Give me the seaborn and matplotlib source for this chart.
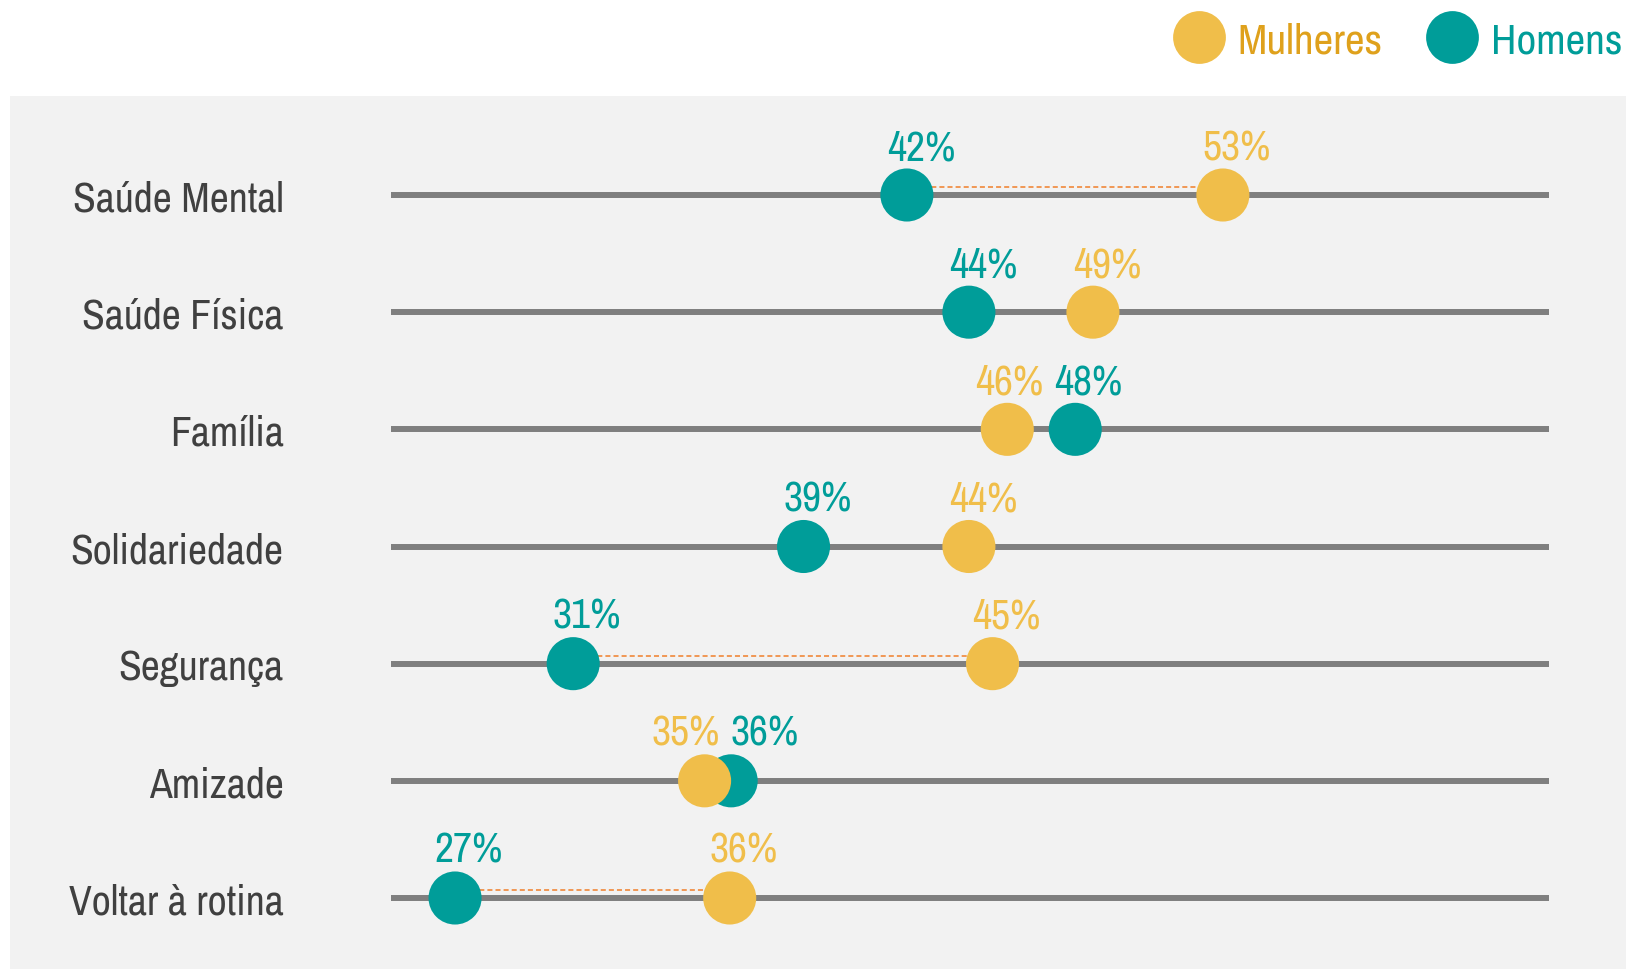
import matplotlib
matplotlib.use('Agg')
from matplotlib import pyplot as plt
from matplotlib.lines import Line2D
import pandas as pd
import seaborn as sns

sns.set_style('white')
plt.rcParams['font.family'] = ['Liberation Sans Narrow', 'Archivo Narrow', 'DejaVu Sans']

# dados
categorias = ['Saúde Mental', 'Saúde Física', 'Família', 'Solidariedade',
              'Segurança', 'Amizade', 'Voltar à rotina']
homens = [42.3, 44.4, 48.0, 38.8, 31.0, 36.35, 27.0]
mulheres = [53.0, 48.6, 45.7, 44.4, 45.2, 35.45, 36.3]
rotulos_homens = ['42%', '44%', '48%', '39%', '31%', '36%', '27%']
rotulos_mulheres = ['53%', '49%', '46%', '44%', '45%', '35%', '36%']
destaque = ['Saúde Mental', 'Segurança', 'Voltar à rotina']  # linha tracejada

cores = {'Homens': '#009D99', 'Mulheres': '#F0BE4A'}
cor_texto_legenda = {'Homens': '#009D99', 'Mulheres': '#DFA11C'}

df = pd.DataFrame({
    'categoria': categorias + categorias,
    'valor': homens + mulheres,
    'grupo': ['Homens'] * len(categorias) + ['Mulheres'] * len(categorias),
})

fig = plt.figure(figsize=(16.26, 9.70), dpi=100)
fig.patch.set_facecolor('white')
ax = fig.add_axes([10 / 1626, 0, 1616 / 1626, 873 / 970])
ax.set_facecolor('#F2F2F2')

# linhas cinzas de fundo
ax.hlines(range(len(categorias)), 24.83, 64.05, color='#7F7F7F', lw=4.3, zorder=1)

# linha tracejada entre os pontos
for i, cat in enumerate(categorias):
    if cat in destaque:
        ax.plot([homens[i], mulheres[i]], [i - 0.068, i - 0.068], color='#F07F2A',
                lw=1.1, dashes=(3.3, 2), zorder=2)

sns.scatterplot(data=df, x='valor', y='categoria', hue='grupo', palette=cores,
                s=1460, linewidth=0, legend=False, ax=ax, zorder=3)

# rótulos de percentagem
for i in range(len(categorias)):
    h, w = homens[i], mulheres[i]
    if abs(h - w) < 3:
        meio = (h + w) / 2
        if h < w:
            pos = [(rotulos_homens[i], meio, -32, 'Homens'), (rotulos_mulheres[i], meio, 47, 'Mulheres')]
        else:
            pos = [(rotulos_mulheres[i], meio, -32, 'Mulheres'), (rotulos_homens[i], meio, 47, 'Homens')]
    else:
        pos = [(rotulos_homens[i], h, 14, 'Homens'), (rotulos_mulheres[i], w, 14, 'Mulheres')]
    for txt, x, dx, g in pos:
        ax.annotate(txt, xy=(x, i), xytext=(dx * 0.72, 36 * 0.72), textcoords='offset points',
                    ha='center', va='baseline', fontsize=30, color=cores[g])

ax.set_xlim(11.93, 66.65)
ax.set_ylim(6.606, -0.845)
ax.set_xticks([])
ax.set_xlabel('')
ax.set_ylabel('')
ax.tick_params(axis='y', length=0, pad=-197, labelsize=30, labelcolor='#404040')
for s in ax.spines.values():
    s.set_visible(False)

# legenda
handles = [Line2D([], [], marker='o', ls='', markersize=38, markeredgewidth=0, color=cores[g])
           for g in ['Mulheres', 'Homens']]
leg = fig.legend(handles, ['Mulheres', 'Homens'], loc='center right',
                 bbox_to_anchor=(1622 / 1626, 1 - 41 / 970),
                 ncol=2, frameon=False, fontsize=31, handlelength=1.0, handletextpad=0.4,
                 columnspacing=1.1, borderpad=0, borderaxespad=0)
for t, g in zip(leg.get_texts(), ['Mulheres', 'Homens']):
    t.set_color(cor_texto_legenda[g])

plt.savefig('out.png', dpi=100)
